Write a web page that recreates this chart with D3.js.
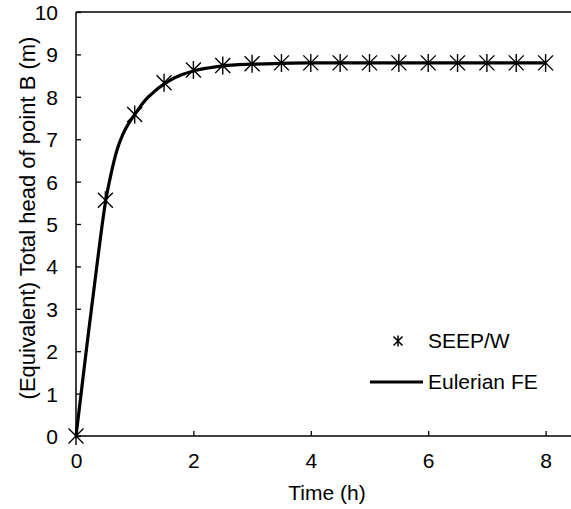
<!DOCTYPE html>
<html>
<head>
<meta charset="utf-8">
<script src="https://cdn.jsdelivr.net/npm/d3@7"></script>
<style>
  body { margin: 0; background: #fff; }
  svg { display: block; font-family: 'Liberation Sans', Arial, sans-serif; }
</style>
</head>
<body>
<script>
// SEEP/W results (markers)
const seepTime = [0, 0.5, 1, 1.5, 2, 2.5, 3, 3.5, 4, 4.5, 5, 5.5, 6, 6.5, 7, 7.5, 8]
const seepHead = [0, 5.56, 7.58, 8.33, 8.63, 8.74, 8.78, 8.8, 8.8, 8.8, 8.8, 8.8, 8.8, 8.8, 8.8, 8.8, 8.8]

// Eulerian FE curve
const feTime = [0, 0.1, 0.2, 0.3, 0.4, 0.5, 0.6, 0.7, 0.8, 0.9, 1, 1.1, 1.2, 1.3, 1.4, 1.5, 1.6, 1.8, 2, 2.25, 2.5, 3, 3.5, 4, 5, 6, 7, 8]
const feHead = [0, 1.15, 2.3, 3.4, 4.5, 5.5, 6.2, 6.75, 7.12, 7.38, 7.58, 7.78, 7.95, 8.08, 8.2, 8.3, 8.39, 8.52, 8.61, 8.68, 8.73, 8.77, 8.79, 8.8, 8.8, 8.8, 8.8, 8.8]

const xTicks = [0, 2, 4, 6, 8]
const yTicks = [0, 1, 2, 3, 4, 5, 6, 7, 8, 9, 10]

const width = 571
const height = 509
const margin = { left: 76, top: 12, right: -8, bottom: 73 }
const font = 'Liberation Sans, Arial, sans-serif'

const svg = d3.select('body')
  .append('svg')
  .attr('width', width)
  .attr('height', height)

const x = d3.scaleLinear()
  .domain([0, 8])
  .range([margin.left, margin.left + 8 * 58.7])

const y = d3.scaleLinear()
  .domain([0, 10])
  .range([height - margin.bottom, margin.top])

const plotRight = width - margin.right

// frame top line
svg.append('line')
  .attr('x1', margin.left).attr('x2', plotRight)
  .attr('y1', y(10)).attr('y2', y(10))
  .attr('stroke', '#000').attr('stroke-width', 1.5)

// x axis, ticks pointing in
const xAxis = svg.append('g')
  .attr('transform', `translate(0,${y(0)})`)
  .call(d3.axisTop(x).tickValues(xTicks).tickSize(5).tickSizeOuter(0).tickFormat(d3.format('d')))
xAxis.select('.domain').remove()
xAxis.selectAll('.tick line').attr('stroke-width', 1.3)
xAxis.selectAll('.tick text')
  .attr('y', 32)
  .attr('dy', 0)
  .attr('font-size', 21)
  .attr('fill', '#000')
  .attr('font-family', font)

svg.append('line')
  .attr('x1', margin.left).attr('x2', plotRight)
  .attr('y1', y(0)).attr('y2', y(0))
  .attr('stroke', '#000').attr('stroke-width', 1.5)

// y axis, ticks pointing in
const yAxis = svg.append('g')
  .attr('transform', `translate(${margin.left},0)`)
  .call(d3.axisRight(y).tickValues(yTicks).tickSize(5).tickSizeOuter(0))
yAxis.select('.domain').remove()
yAxis.selectAll('.tick line').attr('stroke-width', 1.3)
yAxis.selectAll('.tick text')
  .attr('x', -18)
  .attr('dy', '0.36em')
  .attr('text-anchor', 'end')
  .attr('font-size', 21)
  .attr('fill', '#000')
  .attr('font-family', font)

svg.append('line')
  .attr('x1', margin.left).attr('x2', margin.left)
  .attr('y1', y(0)).attr('y2', y(10))
  .attr('stroke', '#000').attr('stroke-width', 1.5)

// axis titles
svg.append('text')
  .attr('x', 327)
  .attr('y', 500)
  .attr('text-anchor', 'middle')
  .attr('font-size', 21)
  .text('Time (h)')

svg.append('text')
  .attr('transform', 'translate(35,218) rotate(-90)')
  .attr('text-anchor', 'middle')
  .attr('font-size', 22)
  .text('(Equivalent) Total head of point B (m)')

// Eulerian FE curve
const line = d3.line()
  .x((d, i) => x(feTime[i]))
  .y(d => y(d))
  .curve(d3.curveMonotoneX)

svg.append('path')
  .datum(feHead)
  .attr('d', line)
  .attr('fill', 'none')
  .attr('stroke', '#000')
  .attr('stroke-width', 3.2)

// star markers: X with vertical bar
const starPath = (s) => `M${-s},${-s}L${s},${s}M${-s},${s}L${s},${-s}M0,${-s * 1.2}L0,${s * 1.2}`

svg.append('g')
  .selectAll('path')
  .data(seepHead)
  .enter()
  .append('path')
  .attr('transform', (d, i) => `translate(${x(seepTime[i])},${y(d)})`)
  .attr('d', starPath(7.5))
  .attr('fill', 'none')
  .attr('stroke', '#000')
  .attr('stroke-width', 1.4)

// legend
const legend = svg.append('g')

legend.append('path')
  .attr('transform', 'translate(398,341)')
  .attr('d', starPath(4.5))
  .attr('stroke', '#000')
  .attr('stroke-width', 1.5)

legend.append('text')
  .attr('x', 428).attr('y', 348)
  .attr('font-size', 21)
  .text('SEEP/W')

legend.append('line')
  .attr('x1', 370).attr('x2', 423)
  .attr('y1', 382).attr('y2', 382)
  .attr('stroke', '#000').attr('stroke-width', 3.2)

legend.append('text')
  .attr('x', 428).attr('y', 389)
  .attr('font-size', 21)
  .text('Eulerian FE')
</script>
</body>
</html>
